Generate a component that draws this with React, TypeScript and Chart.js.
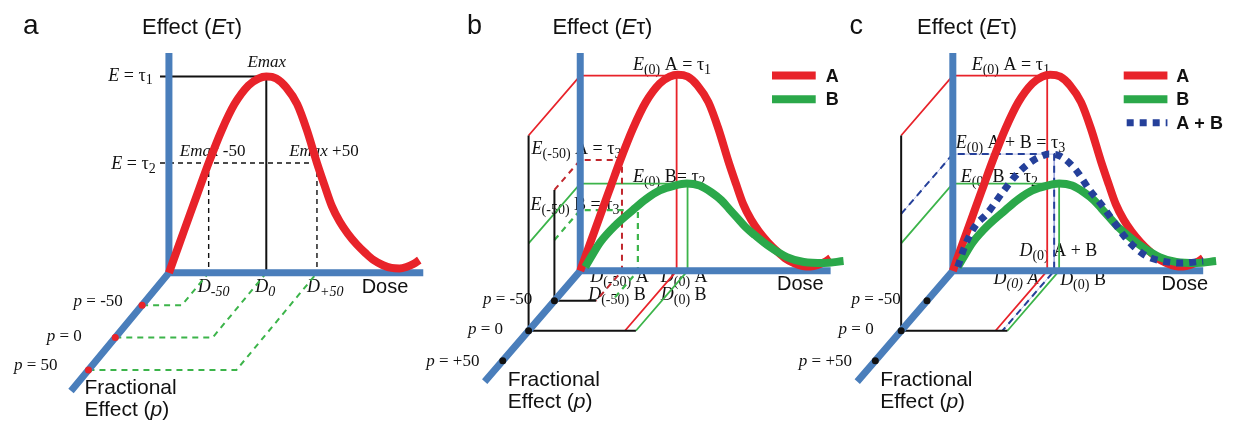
import React, { useEffect, useRef } from "react";
import { Chart, registerables } from "chart.js";

Chart.register(...registerables);

// ---------------- DATA ----------------
// Dose–effect curves (dose along Dose axis, effect along Effect axis)
const CURVE_A_DOSE = [0, 11, 22, 31, 40, 53, 66, 80, 90, 98, 108, 118, 129, 139, 149, 157, 164, 172, 180, 189, 198, 206, 215, 224, 232, 239, 246, 252];
const CURVE_A_EFFECT = [0, 31, 62, 87, 112, 145, 172, 191, 198, 200, 198, 189, 172, 145, 112, 88, 68, 52, 40, 29, 20, 13, 8, 5, 4.5, 6, 9, 13];
const CURVE_B_DOSE = [5, 12, 20, 35, 53, 66, 80, 95, 107, 120, 132, 142, 150, 158, 166, 175, 190, 208, 225, 245, 265];
const CURVE_B_EFFECT = [4, 16, 29, 46, 62, 73, 82, 87, 89, 87, 80, 72, 63, 54, 45, 37, 25, 14, 9, 8, 10];
const CURVE_AB_DOSE = [5, 12, 22, 35, 50, 65, 80, 92, 97, 108, 123, 138, 150, 162, 172, 182, 195, 208, 230, 252];
const CURVE_AB_EFFECT = [4, 25, 45, 59, 80, 99, 112, 118, 119, 117, 104, 82, 67, 50, 36, 25, 15, 10.5, 8, 10];

// Fractional effect levels (p) -> depth along the p axis
const P_LEVELS = [-50, 0, 50];
const pDepth = (p: number) => (p + 100) / 50;

// Panel a levels
const A_EMAX = 200;
const A_EHALF = 112;
const A_DOSES = [40, 98, 149]; // D-50, D0, D+50

// Panel b levels
const B_E0_A = 199;
const B_E50_A = 113;
const B_E0_B = 89;
const B_E50_B = 62;
const B_D0_A = 97;
const B_D50_A = 42;
const B_D0_B = 108;
const B_D50_B = 58;

// Panel c levels
const C_E0_A = 199;
const C_E0_AB = 119;
const C_E0_B = 89;
const C_D0_A = 95;
const C_D0_AB = 102;
const C_D0_B = 107;

// ---------------- LAYOUT ----------------
const W = 1237;
const H = 424;
const ORIGIN_X = [166, 580, 955];
const ORIGIN_Y = [274, 272, 272];
const DEPTH_DX = [-27, -26, -26];
const DEPTH_DY = [33, 30.5, 30.5];
const AXIS_TOP = [224, 222, 222];
const AXIS_RIGHT = [256, 252, 252];
const AXIS_DEPTH = [3.65, 3.7, 3.7];

const BLUE = "#4a7ebb";
const RED = "#e8232a";
const DRED = "#c1272d";
const GREEN = "#2ba84a";
const GREEN_T = "#3cb44a";
const NAVY = "#25409a";
const BLACK = "#111111";

const SERIF = '"Liberation Serif", "Times New Roman", serif';
const SANS = '"Liberation Sans", Arial, sans-serif';

type Seg = [string, string];
type Label = { x: number; y: number; size: number; segs: Seg[] };

const title = (x: number): Label => ({ x, y: 31, size: 22, segs: [["Effect (", "S"], ["E", "SI"], ["τ)", "S"]] });
const pLab = (x: number, y: number, t: string): Label => ({ x, y, size: 17, segs: [["p", "i"], [t, "r"]] });
const fracLabs = (x: number, y: number): Label[] => [
  { x, y, size: 21, segs: [["Fractional", "S"]] },
  { x, y: y + 23, size: 21, segs: [["Effect (", "S"], ["p", "SI"], [")", "S"]] },
];

const LABELS: Label[] = [
  // panel a
  { x: 19, y: 31, size: 28, segs: [["a", "S"]] },
  title(139),
  { x: 105, y: 78, size: 18, segs: [["E", "i"], [" = τ", "r"], ["1", "s"]] },
  { x: 108, y: 168, size: 18, segs: [["E", "i"], [" = τ", "r"], ["2", "s"]] },
  { x: 245, y: 64, size: 17, segs: [["Emax", "i"]] },
  { x: 177, y: 155, size: 17, segs: [["Emax", "i"], [" -50", "r"]] },
  { x: 287, y: 155, size: 17, segs: [["Emax", "i"], [" +50", "r"]] },
  { x: 195, y: 294, size: 18, segs: [["D", "i"], ["-50", "si"]] },
  { x: 253, y: 294, size: 18, segs: [["D", "i"], ["0", "si"]] },
  { x: 305, y: 294, size: 18, segs: [["D", "i"], ["+50", "si"]] },
  { x: 360, y: 295, size: 20, segs: [["Dose", "S"]] },
  pLab(70, 308, " = -50"),
  pLab(43, 343, " = 0"),
  pLab(10, 373, " = 50"),
  ...fracLabs(81, 397),
  // panel b
  { x: 466, y: 31, size: 27, segs: [["b", "S"]] },
  title(552),
  { x: 633, y: 67, size: 18, segs: [["E", "i"], ["(0)", "s"], [" A = τ", "r"], ["1", "s"]] },
  { x: 531, y: 153, size: 18, segs: [["E", "i"], ["(-50)", "s"], [" A = τ", "r"], ["3", "s"]] },
  { x: 633, y: 181, size: 18, segs: [["E", "i"], ["(0)", "s"], [" B= τ", "r"], ["2", "s"]] },
  { x: 530, y: 210, size: 18, segs: [["E", "i"], ["(-50)", "s"], [" B = τ", "r"], ["3", "s"]] },
  { x: 590, y: 283, size: 18, segs: [["D", "i"], ["(-50)", "s"], [" A", "r"]] },
  { x: 661, y: 283, size: 18, segs: [["D", "i"], ["(0)", "s"], [" A", "r"]] },
  { x: 588, y: 302, size: 18, segs: [["D", "i"], ["(-50)", "s"], [" B", "r"]] },
  { x: 661, y: 302, size: 18, segs: [["D", "i"], ["(0)", "s"], [" B", "r"]] },
  { x: 778, y: 292, size: 20, segs: [["Dose", "S"]] },
  pLab(482, 306, " = -50"),
  pLab(467, 336, " = 0"),
  pLab(425, 369, " = +50"),
  ...fracLabs(507, 389),
  { x: 827, y: 79, size: 18, segs: [["A", "B"]] },
  { x: 827, y: 103, size: 18, segs: [["B", "B"]] },
  // panel c
  { x: 851, y: 31, size: 27, segs: [["c", "S"]] },
  title(919),
  { x: 974, y: 67, size: 18, segs: [["E", "i"], ["(0)", "s"], [" A = τ", "r"], ["1", "s"]] },
  { x: 958, y: 147, size: 18, segs: [["E", "i"], ["(0)", "s"], [" A + B = τ", "r"], ["3", "s"]] },
  { x: 963, y: 181, size: 18, segs: [["E", "i"], ["(0)", "s"], [" B = τ", "r"], ["2", "s"]] },
  { x: 1022, y: 257, size: 18, segs: [["D", "i"], ["(0)", "s"], [" A + B", "r"]] },
  { x: 996, y: 285, size: 18, segs: [["D", "i"], ["(0)", "si"], [" A", "i"]] },
  { x: 1063, y: 286, size: 18, segs: [["D", "i"], ["(0)", "s"], [" B", "r"]] },
  { x: 1165, y: 292, size: 20, segs: [["Dose", "S"]] },
  pLab(853, 306, " = -50"),
  pLab(840, 336, " = 0"),
  pLab(800, 369, " = +50"),
  ...fracLabs(882, 389),
  { x: 1180, y: 79, size: 18, segs: [["A", "B"]] },
  { x: 1180, y: 103, size: 18, segs: [["B", "B"]] },
  { x: 1180, y: 127, size: 18, segs: [["A + B", "B"]] },
];

function fontFor(st: string, size: number): { font: string; dy: number } {
  const sub = Math.round(size * 0.78);
  switch (st) {
    case "i": return { font: `italic ${size}px ${SERIF}`, dy: 0 };
    case "s": return { font: `${sub}px ${SERIF}`, dy: size * 0.22 };
    case "si": return { font: `italic ${sub}px ${SERIF}`, dy: size * 0.22 };
    case "S": return { font: `${size}px ${SANS}`, dy: 0 };
    case "SI": return { font: `italic ${size}px ${SANS}`, dy: 0 };
    case "B": return { font: `bold ${size}px ${SANS}`, dy: 0 };
    default: return { font: `${size}px ${SERIF}`, dy: 0 };
  }
}

const textPlugin = {
  id: "schemaText",
  beforeDatasetsDraw(chart: any) {
    const ctx = chart.ctx as CanvasRenderingContext2D;
    const xs = chart.scales.x;
    const ys = chart.scales.y;
    ctx.save();
    ctx.fillStyle = BLACK;
    ctx.textBaseline = "alphabetic";
    ctx.textAlign = "left";
    for (const lab of LABELS) {
      let x = xs.getPixelForValue(lab.x);
      const y = ys.getPixelForValue(lab.y);
      for (const [t, st] of lab.segs) {
        const f = fontFor(st, lab.size);
        ctx.font = f.font;
        ctx.fillText(t, x, y + f.dy);
        x += ctx.measureText(t).width;
      }
    }
    ctx.restore();
  },
};

type P3 = [number, number, number];
const proj = (panel: number, [d, e, z]: P3) => ({
  x: ORIGIN_X[panel] + d + z * DEPTH_DX[panel],
  y: ORIGIN_Y[panel] - e + z * DEPTH_DY[panel],
});

function line(panel: number, pts: P3[], color: string, width: number, dash: number[] = [], smooth = false) {
  return {
    data: pts.map((p) => proj(panel, p)),
    showLine: true,
    borderColor: color,
    backgroundColor: color,
    borderWidth: width,
    borderDash: dash,
    borderJoinStyle: smooth ? "round" : "miter",
    borderCapStyle: "butt",
    tension: smooth ? 0.4 : 0,
    cubicInterpolationMode: smooth ? "monotone" : "default",
    pointRadius: 0,
    pointHoverRadius: 0,
    fill: false,
    clip: false,
  };
}

function curve(panel: number, dose: number[], eff: number[], color: string, width: number, dash: number[] = []) {
  return line(panel, dose.map((d, i) => [d, eff[i], 0] as P3), color, width, dash, true);
}

function dots(panel: number, color: string) {
  return {
    data: P_LEVELS.map((p) => proj(panel, [0, 0, pDepth(p)])),
    showLine: false,
    pointRadius: 3.5,
    pointHoverRadius: 3.5,
    pointBackgroundColor: color,
    pointBorderColor: color,
    pointBorderWidth: 0,
    clip: false,
  };
}

function axes(panel: number) {
  return [
    line(panel, [[0, -3, 0], [0, AXIS_TOP[panel], 0]], BLUE, 7),
    line(panel, [[0, 0, AXIS_DEPTH[panel]], [0, 0, 0], [AXIS_RIGHT[panel], 0, 0]], BLUE, 7),
  ];
}

// guide: from p axis up, across to the curve, down to dose axis and back out along p
const guide = (e: number, d: number, z: number): P3[] => [[0, e, z], [0, e, 0], [d, e, 0], [d, 0, 0], [d, 0, z]];

function legendLine(x0: number, x1: number, y: number, color: string, width: number, dash: number[] = []) {
  return {
    data: [{ x: x0, y }, { x: x1, y }],
    showLine: true,
    borderColor: color,
    borderWidth: width,
    borderDash: dash,
    borderCapStyle: "butt",
    pointRadius: 0,
    pointHoverRadius: 0,
    fill: false,
    clip: false,
  };
}

function buildDatasets() {
  const list: any[] = [];
  // ----- panel a -----
  list.push(line(0, [[-9, A_EMAX, 0], [A_DOSES[1], A_EMAX, 0], [A_DOSES[1], 0, 0]], BLACK, 2));
  list.push(line(0, [[-9, A_EHALF, 0], [A_DOSES[2], A_EHALF, 0]], BLACK, 1.4, [5, 4]));
  list.push(line(0, [[A_DOSES[0], A_EHALF, 0], [A_DOSES[0], 0, 0]], BLACK, 1.4, [5, 4]));
  list.push(line(0, [[A_DOSES[2], A_EHALF, 0], [A_DOSES[2], 0, 0]], BLACK, 1.4, [5, 4]));
  P_LEVELS.forEach((p, i) => {
    const z = pDepth(p);
    list.push(line(0, [[0, 0, z], [A_DOSES[i], 0, z], [A_DOSES[i], 0, 0]], GREEN_T, 2, [6, 5]));
  });
  list.push(...axes(0));
  list.push(dots(0, RED));
  list.push(curve(0, CURVE_A_DOSE, CURVE_A_EFFECT, RED, 8));

  // ----- panel b -----
  list.push(line(1, guide(B_E0_A, B_D0_A, 2), RED, 1.8));
  list.push(line(1, guide(B_E0_B, B_D0_B, 2), GREEN_T, 1.8));
  list.push(line(1, guide(B_E50_A, B_D50_A, 1), DRED, 2, [6, 5]));
  list.push(line(1, guide(B_E50_B, B_D50_B, 1), GREEN_T, 2.2, [6, 5]));
  list.push(line(1, [[0, B_E0_A, 2], [0, 0, 2], [B_D0_B, 0, 2]], BLACK, 2));
  list.push(line(1, [[0, B_E50_A, 1], [0, 0, 1], [B_D50_A, 0, 1]], BLACK, 2));
  list.push(...axes(1));
  list.push(dots(1, BLACK));
  list.push(curve(1, CURVE_A_DOSE, CURVE_A_EFFECT, RED, 8));
  list.push(curve(1, CURVE_B_DOSE, CURVE_B_EFFECT, GREEN, 8));
  list.push(legendLine(773, 817, 73, RED, 8));
  list.push(legendLine(773, 817, 97, GREEN, 8));

  // ----- panel c -----
  list.push(line(2, guide(C_E0_A, C_D0_A, 2), RED, 1.8));
  list.push(line(2, guide(C_E0_AB, C_D0_AB, 2), "rgba(140,150,215,0.6)", 1));
  list.push(line(2, guide(C_E0_AB, C_D0_AB, 2), NAVY, 2, [7, 5]));
  list.push(line(2, guide(C_E0_B, C_D0_B, 2), GREEN_T, 1.8));
  list.push(line(2, [[0, C_E0_A, 2], [0, 0, 2], [C_D0_B, 0, 2]], BLACK, 2));
  list.push(...axes(2));
  list.push(dots(2, BLACK));
  list.push(curve(2, CURVE_A_DOSE, CURVE_A_EFFECT, RED, 8));
  list.push(curve(2, CURVE_B_DOSE, CURVE_B_EFFECT, GREEN, 8));
  list.push(curve(2, CURVE_AB_DOSE, CURVE_AB_EFFECT, NAVY, 7, [7, 6]));
  list.push(legendLine(1127, 1171, 73, RED, 8));
  list.push(legendLine(1127, 1171, 97, GREEN, 8));
  list.push(legendLine(1130, 1171, 121, NAVY, 7, [7, 6]));

  // Chart.js paints the first dataset on top: reverse painter's order
  return list.reverse();
}

export default function App() {
  const canvasRef = useRef<HTMLCanvasElement | null>(null);

  useEffect(() => {
    if (!canvasRef.current) return;
    const chart = new Chart(canvasRef.current, {
      type: "scatter",
      data: { datasets: buildDatasets() },
      options: {
        animation: false,
        responsive: true,
        maintainAspectRatio: false,
        events: [],
        layout: { padding: 0 },
        plugins: { legend: { display: false }, tooltip: { enabled: false }, title: { display: false } },
        scales: {
          x: { type: "linear", min: 0, max: W, display: false },
          y: { type: "linear", min: 0, max: H, reverse: true, display: false },
        },
      },
      plugins: [textPlugin as any],
    } as any);
    const fonts = [
      `18px ${SERIF}`, `italic 18px ${SERIF}`, `20px ${SANS}`, `italic 20px ${SANS}`, `bold 18px ${SANS}`,
    ];
    Promise.all(fonts.map((f) => (document as any).fonts?.load?.(f)))
      .catch(() => undefined)
      .then(() => chart.update());
    return () => chart.destroy();
  }, []);

  return (
    <div style={{ position: "fixed", left: 0, top: 0, width: `${W}px`, height: `${H}px`, background: "#fff" }}>
      <canvas ref={canvasRef} />
    </div>
  );
}
